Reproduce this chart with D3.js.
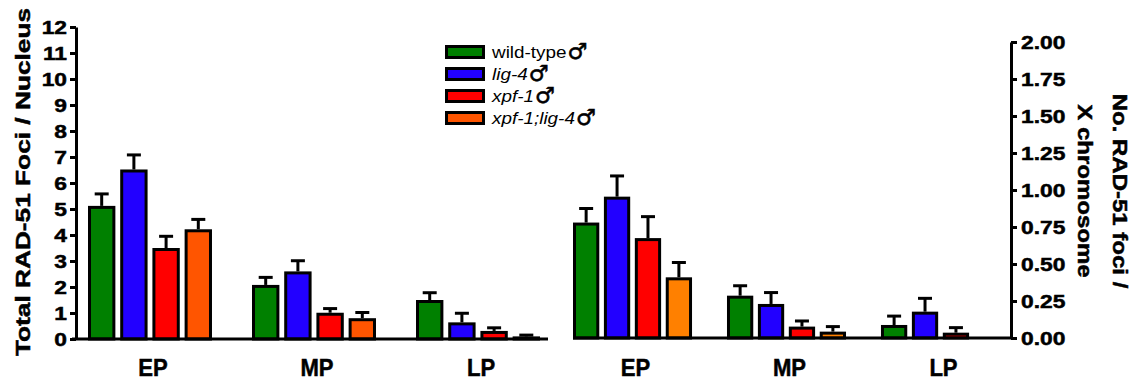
<!DOCTYPE html>
<html>
<head>
<meta charset="utf-8">
<script src="https://cdn.jsdelivr.net/npm/d3@7"></script>
<style>
  html, body { margin: 0; padding: 0; background: #fff; }
  svg { display: block; font-family: "Liberation Sans", Arial, sans-serif; }
</style>
</head>
<body>
<svg id="chart" width="1131" height="386"></svg>
<script>
// stages and genotypes
const stages = ['EP', 'MP', 'LP'];
const genotypes = ['wild-type', 'lig-4', 'xpf-1', 'xpf-1;lig-4'];
const italicName = [false, true, true, true];

// total RAD-51 foci / nucleus  (rows = stage, cols = genotype)
const totalMeans = [[5.12, 6.52, 3.5, 4.22], [2.08, 2.6, 1.01, 0.8], [1.5, 0.64, 0.31, 0.1]];
const totalErrs  = [[0.46, 0.56, 0.45, 0.38], [0.29, 0.41, 0.16, 0.22], [0.28, 0.35, 0.12, 0.05]];

// RAD-51 foci / X chromosome
const xMeans = [[0.78, 0.955, 0.675, 0.41], [0.286, 0.23, 0.077, 0.043], [0.088, 0.178, 0.036, 0]];
const xErrs  = [[0.095, 0.14, 0.145, 0.1], [0.067, 0.077, 0.038, 0.034], [0.06, 0.09, 0.034, 0]];

const leftTicks = d3.range(0, 13);
const rightTicks = [0, 0.25, 0.5, 0.75, 1, 1.25, 1.5, 1.75, 2];

const leftColors = ['#008000', '#2200ff', '#ff0000', '#ff5500'];
const rightColors = ['#008000', '#2200ff', '#ff0000', '#ff8000'];

const svg = d3.select('#chart');
const STRETCH = 1.2;

// widen text a bit, the original font runs wider than Arial
function stretch(sel, k) {
  sel.each(function() {
    const w = this.getComputedTextLength();
    d3.select(this).attr('textLength', w * k).attr('lengthAdjust', 'spacingAndGlyphs');
  });
}

// heavier bold like the original
function heavy(sel) {
  sel.attr('font-weight', 'bold').attr('fill', '#000')
    .attr('stroke', '#000').attr('stroke-width', 0.5);
}

function drawPanel(opts) {
  const { x0, y, means, errs, colors } = opts;
  const x1 = d3.scaleBand().domain(genotypes).range([0, x0.bandwidth()]).paddingInner(0.15);

  const g = svg.append('g');
  stages.forEach((st, si) => {
    const grp = g.append('g').attr('transform', `translate(${x0(st)},0)`);
    genotypes.forEach((gt, gi) => {
      const v = means[si][gi];
      const e = errs[si][gi];
      if (v <= 0) return;
      const bx = x1(gt);
      const cx = bx + x1.bandwidth() / 2;
      // error bar (upper only)
      grp.append('line')
        .attr('x1', cx).attr('x2', cx)
        .attr('y1', y(v)).attr('y2', y(v + e))
        .attr('stroke', '#000').attr('stroke-width', 3);
      grp.append('line')
        .attr('x1', cx - 7).attr('x2', cx + 7)
        .attr('y1', y(v + e)).attr('y2', y(v + e))
        .attr('stroke', '#000').attr('stroke-width', 3);
      grp.append('rect')
        .attr('x', bx + 1.5)
        .attr('y', y(v) + 1.5)
        .attr('width', x1.bandwidth() - 3)
        .attr('height', Math.max(0, y(0) - y(v) - 1.5))
        .attr('fill', colors[gi])
        .attr('stroke', '#000')
        .attr('stroke-width', 3);
    });
    const lbl = svg.append('text')
      .attr('x', x0(st) + x0.bandwidth() / 2 + 3)
      .attr('y', 376)
      .attr('text-anchor', 'middle')
      .attr('font-size', 24)
      .text(st);
    heavy(lbl);
    stretch(lbl, 0.92);
  });
}

// ---- left panel ----
const yL = d3.scaleLinear().domain([0, 12]).range([339, 27]);
const xL = d3.scaleBand().domain(stages).range([88, 540]).paddingInner(0.244).paddingOuter(0);
drawPanel({ x0: xL, y: yL, means: totalMeans, errs: totalErrs, colors: leftColors });

svg.append('line')
  .attr('x1', 72).attr('x2', 548)
  .attr('y1', yL(0)).attr('y2', yL(0))
  .attr('stroke', '#000').attr('stroke-width', 3);

const axL = svg.append('g')
  .attr('transform', 'translate(76,0)')
  .call(d3.axisLeft(yL).tickValues(leftTicks).tickSize(6).tickSizeOuter(0).tickPadding(3));
axL.select('.domain').attr('stroke-width', 3);
axL.selectAll('.tick line').attr('stroke-width', 3);
axL.selectAll('.tick text')
  .attr('font-size', 19)
  .attr('font-family', '"Liberation Sans", Arial, sans-serif');
heavy(axL.selectAll('.tick text'));
stretch(axL.selectAll('.tick text'), STRETCH);

const titleL = svg.append('text')
  .attr('transform', 'translate(30,182) rotate(-90)')
  .attr('text-anchor', 'middle')
  .attr('font-size', 21)
  .text('Total RAD-51 Foci / Nucleus');
heavy(titleL);
stretch(titleL, 1.25);

// ---- right panel ----
const yR = d3.scaleLinear().domain([0, 2]).range([338, 42]);
const xR = d3.scaleBand().domain(stages).range([573, 1000]).paddingInner(0.227).paddingOuter(0);
drawPanel({ x0: xR, y: yR, means: xMeans, errs: xErrs, colors: rightColors });

svg.append('line')
  .attr('x1', 573).attr('x2', 1011)
  .attr('y1', yR(0)).attr('y2', yR(0))
  .attr('stroke', '#000').attr('stroke-width', 3);

const axR = svg.append('g')
  .attr('transform', 'translate(1011,0)')
  .call(d3.axisRight(yR).tickValues(rightTicks).tickFormat(d3.format('.2f'))
    .tickSize(6).tickSizeOuter(0).tickPadding(4));
axR.select('.domain').attr('stroke-width', 3);
axR.selectAll('.tick line').attr('stroke-width', 3);
axR.selectAll('.tick text')
  .attr('font-size', 19)
  .attr('font-family', '"Liberation Sans", Arial, sans-serif');
heavy(axR.selectAll('.tick text'));
stretch(axR.selectAll('.tick text'), STRETCH);

const titleR = svg.append('g').attr('transform', 'translate(1100,191) rotate(90)');
const tr1 = titleR.append('text').attr('y', -13).attr('text-anchor', 'middle')
  .attr('font-size', 20).text('No. RAD-51 foci /');
const tr2 = titleR.append('text').attr('y', 22).attr('text-anchor', 'middle')
  .attr('font-size', 20).text('X chromosome');
heavy(tr1);
heavy(tr2);
stretch(tr1, STRETCH);
stretch(tr2, STRETCH);

// ---- legend ----
const legend = svg.append('g').attr('transform', 'translate(445,52)');
genotypes.forEach((gt, i) => {
  const row = legend.append('g').attr('transform', `translate(0,${i * 22})`);
  row.append('rect')
    .attr('x', 1.5).attr('y', -5.5)
    .attr('width', 37).attr('height', 11)
    .attr('fill', leftColors[i]).attr('stroke', '#000').attr('stroke-width', 3);
  const t = row.append('text')
    .attr('x', 47).attr('y', 6)
    .attr('font-size', 16)
    .attr('font-style', italicName[i] ? 'italic' : 'normal')
    .text(gt);
  stretch(t, 1.18);
  const w = +t.attr('textLength');
  row.append('text')
    .attr('x', 47 + w + 1).attr('y', 7)
    .attr('font-size', 22)
    .attr('font-weight', 'bold')
    .attr('stroke', '#000').attr('stroke-width', 0.6)
    .attr('font-family', '"DejaVu Sans", sans-serif')
    .text('\u2642');
});
</script>
</body>
</html>
